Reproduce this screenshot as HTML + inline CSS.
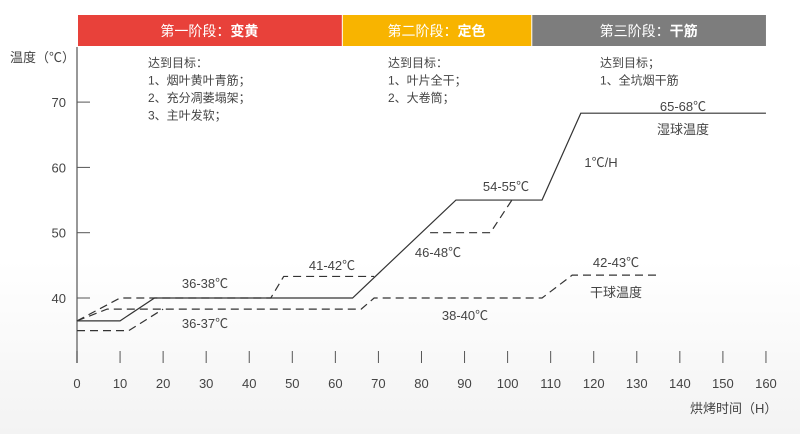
<!DOCTYPE html>
<html><head><meta charset="utf-8"><style>
body{margin:0;width:800px;height:434px;overflow:hidden;background:linear-gradient(#fff 60%,#f3f3f3);font-family:"Liberation Sans","Noto Sans CJK SC",sans-serif}
svg text{font-family:"Liberation Sans","Noto Sans CJK SC",sans-serif;fill:#444}
</style></head><body>
<svg width="800" height="434">
<g id="bands"></g><g id="axes"></g><g id="lines"></g><g id="labels"></g>
</svg>
<script>
const xTicks=[0,10,20,30,40,50,60,70,80,90,100,110,120,130,140,150,160];
const yTicks=[40,50,60,70];
const wetBulb=[[0,36.5],[10,36.5],[18,40],[64,40],[88,55],[108,55],[117,68.3],[160,68.3]];
const dryUpper=[[0,36.5],[10,40],[45,40],[48,43.3],[69,43.3]];
const dryMid=[[0,36.5],[7,38.3],[66,38.3],[69,40],[108,40],[115,43.5],[135,43.5]];
const dryLow=[[0,35],[12,35],[20,38.3]];
const dryFix=[[82,50],[96,50],[101,55]];
const stages=[["第一阶段：","变黄",0,61.5,"#e8413a"],["第二阶段：","定色",61.5,105.5,"#f8b400"],["第三阶段：","干筋",105.5,160,"#7d7d7d"]];
const NS="http://www.w3.org/2000/svg";
const X=v=>77+v*4.306, Y=v=>298-(v-40)*6.53;
function mk(t,a,p,name){const e=document.createElementNS(NS,t);for(const k in a)e.setAttribute(k,a[k]);


document.getElementById(p).appendChild(e);return e;}
function txt(s,x,y,p,name,anchor,size,col){const e=mk('text',{x:x,y:y,'font-size':size||12,'text-anchor':anchor||'start'},p,name);if(col)e.style.fill=col;e.textContent=s;return e;}
stages.forEach((s,i)=>{mk('rect',{x:X(s[2])+1,y:15,width:X(s[3])-X(s[2])-1,height:31,fill:s[4]},'bands','stage-band');
const t=txt(s[0],(X(s[2])+X(s[3]))/2,36,'bands','stage-title','middle',14,'#fff');
const b=document.createElementNS(NS,'tspan');b.setAttribute('font-weight','bold');b.textContent=s[1];t.appendChild(b);});
mk('line',{x1:77,y1:47,x2:77,y2:363,stroke:'#777','stroke-width':1.5},'axes','y-axis');
yTicks.forEach(v=>{mk('line',{x1:77,y1:Y(v),x2:90,y2:Y(v),stroke:'#555'},'axes','y-tick');txt(v,66,Y(v)+5,'axes','y-tick-label','end',13);});
xTicks.forEach(v=>{mk('line',{x1:X(v),y1:351,x2:X(v),y2:363,stroke:'#555'},'axes','x-tick');txt(v,X(v),388,'axes','x-tick-label','middle',13);});
txt('温度（℃）',10,62,'axes','y-axis-title','start',13);
txt('烘烤时间（H）',690,413,'axes','x-axis-title','start',13);
function poly(d,dash,name){mk('polyline',{points:d.map(p=>X(p[0])+','+Y(p[1])).join(' '),fill:'none',stroke:'#333','stroke-width':1.2,'stroke-dasharray':dash||''},'lines',name);}
poly(wetBulb,'','wet-bulb-line');poly(dryUpper,'8,5','dry-upper-line');poly(dryMid,'8,5','dry-mid-line');poly(dryLow,'8,5','dry-low-line');poly(dryFix,'8,5','dry-fix-line');
const notes=[[148,["达到目标：","1、烟叶黄叶青筋；","2、充分凋萎塌架；","3、主叶发软；"]],[388,["达到目标：","1、叶片全干；","2、大卷筒；"]],[600,["达到目标；","1、全坑烟干筋"]]];
notes.forEach(n=>n[1].forEach((s,i)=>txt(s,n[0],67+i*17.5,'labels','stage-goal',null,12)));
[["36-38℃",205,288],["36-37℃",205,328],["41-42℃",332,270],["46-48℃",438,257],["54-55℃",506,191],["38-40℃",465,320],["42-43℃",616,267],["干球温度",616,297],["65-68℃",683,111],["湿球温度",683,134],["1℃/H",601,167]].forEach(l=>txt(l[0],l[1],l[2],'labels','annotation','middle',13));
</script>
</body></html>
